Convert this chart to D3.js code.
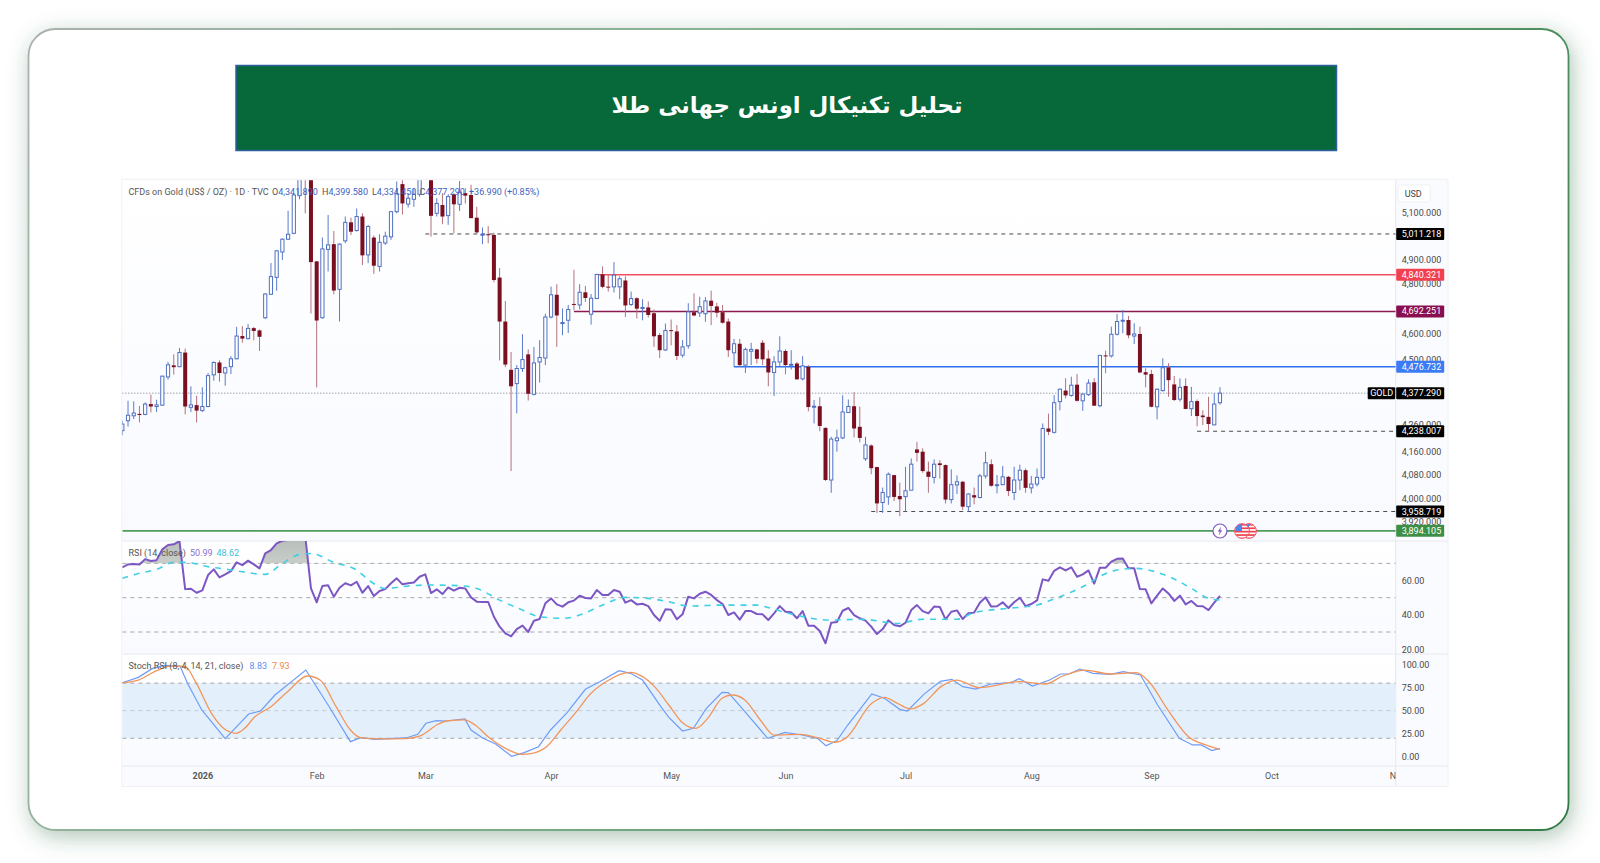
<!DOCTYPE html>
<html lang="fa">
<head>
<meta charset="utf-8">
<title>تحلیل تکنیکال اونس جهانی طلا</title>
<script src="https://cdn.jsdelivr.net/npm/d3@7"></script>
<style>
html,body{margin:0;padding:0;background:#fff;}
svg{display:block;}
text{font-family:Roboto,"Noto Sans",sans-serif;}
</style>
</head>
<body>
<svg id="chart" width="1600" height="863"></svg>
<script>
const titleText = "تحلیل تکنیکال اونس جهانی طلا";

const open = [
4240,4276,4294,4301,4299,4337,4328,4333,4438,4482,
4477,4531,4325,4333,4313,4328,4446,4493,4453,4477,
4507,4595,4585,4626,4617,4667,4761,4830,4935,4989,
5014,5177,5480,5340,4896,4667,4946,4968,4781,4982,
5061,5026,5086,4923,4996,4875,4973,4999,5107,5228,
5140,5161,5183,5290,5320,5100,5136,5090,5183,5139,
5188,5180,5081,5007,5010,5007,4829,4652,4465,4413,
4470,4524,4373,4495,4510,4670,4759,4645,4657,4722,
4718,4769,4681,4744,4842,4792,4791,4791,4817,4720,
4745,4704,4708,4685,4599,4541,4618,4613,4521,4557,
4689,4686,4683,4735,4712,4689,4652,4530,4565,4483,
4536,4543,4569,4508,4455,4495,4537,4483,4489,4431,
4476,4326,4329,4250,4066,4204,4214,4306,4329,4254,
4140,4187,4111,3989,4008,4083,4011,4009,4031,4173,
4165,4095,4075,4124,4118,3999,4049,4060,3975,4014,
4006,4080,4121,4047,4050,4077,4023,4066,4100,4039,
4052,4074,4248,4234,4346,4387,4369,4409,4349,4372,
4418,4331,4520,4518,4602,4654,4658,4595,4603,4456,
4449,4327,4387,4474,4410,4355,4404,4320,4348,4295,
4290,4261,4341.89];

const high = [
4276,4349,4347,4330,4343,4372,4353,4443,4495,4524,
4549,4546,4403,4368,4399,4453,4497,4501,4477,4517,
4631,4634,4642,4631,4621,4765,4889,4944,4993,5111,
5185,5400,5595,5400,4896,4996,5093,5024,4972,5086,
5081,5121,5100,5050,5005,5010,5021,5110,5240,5290,
5188,5210,5320,5360,5340,5166,5188,5180,5188,5242,
5210,5225,5128,5039,5045,5017,4868,4734,4533,4483,
4602,4543,4553,4579,4683,4792,4802,4704,4718,4861,
4802,4795,4762,4844,4875,4840,4893,4834,4834,4772,
4749,4741,4732,4700,4607,4644,4660,4638,4579,4725,
4765,4751,4749,4776,4727,4718,4664,4584,4584,4550,
4569,4546,4579,4540,4517,4594,4543,4540,4495,4517,
4483,4352,4362,4252,4218,4244,4369,4354,4381,4328,
4218,4191,4112,4040,4092,4084,4057,4112,4141,4200,
4177,4130,4138,4135,4120,4103,4082,4063,4020,4040,
4087,4165,4138,4083,4115,4080,4112,4119,4106,4080,
4106,4266,4302,4370,4395,4433,4439,4449,4377,4429,
4433,4521,4538,4632,4682,4698,4674,4645,4632,4471,
4465,4395,4509,4490,4442,4433,4433,4401,4354,4314,
4364,4377,4399.58];

const low = [
4224,4255,4282,4270,4296,4306,4308,4330,4428,4447,
4475,4299,4308,4270,4308,4325,4424,4420,4405,4449,
4505,4569,4582,4578,4537,4662,4758,4775,4902,4986,
5010,5161,5100,4684,4399,4663,4854,4761,4652,4972,
5007,5021,4881,4889,4844,4854,4965,4986,5100,5095,
5125,5128,5173,5250,5000,5086,5053,5050,5014,5110,
5143,5079,5014,4968,4972,4810,4501,4475,4097,4303,
4457,4350,4369,4417,4483,4664,4553,4598,4607,4697,
4700,4730,4640,4741,4785,4772,4768,4741,4670,4714,
4664,4657,4668,4553,4510,4537,4559,4502,4512,4546,
4673,4670,4651,4638,4668,4644,4514,4476,4476,4453,
4483,4489,4483,4403,4367,4476,4448,4466,4428,4425,
4310,4266,4238,4063,4022,4165,4210,4304,4216,4198,
4133,4086,3954,3954,3981,3994,3943,3958,4031,4130,
4091,4022,4054,4071,3986,3986,4018,3964,3959,3983,
4003,4071,4043,4020,4048,4011,3997,4031,4022,4020,
4043,4066,4224,4230,4314,4358,4364,4346,4312,4367,
4330,4325,4452,4512,4597,4606,4586,4564,4452,4399,
4325,4281,4383,4364,4348,4346,4318,4293,4256,4260,
4238,4260,4334.45];

const close = [
4264,4296,4304,4297,4337,4328,4334,4441,4484,4475,
4531,4328,4334,4313,4328,4443,4493,4453,4473,4507,
4595,4585,4625,4615,4592,4762,4833,4940,4989,5010,
5180,5330,5340,4893,4656,4948,4965,4776,4968,5061,
5021,5086,4921,5043,4878,4976,5002,5107,5185,5143,
5166,5183,5290,5320,5089,5143,5086,5173,5139,5192,
5177,5079,5018,5010,5007,4819,4652,4485,4403,4470,
4504,4375,4491,4512,4670,4759,4676,4648,4700,4718,
4769,4746,4745,4842,4791,4788,4839,4824,4716,4744,
4703,4708,4678,4594,4540,4617,4615,4518,4553,4690,
4676,4711,4734,4714,4687,4647,4540,4565,4483,4543,
4543,4507,4505,4455,4495,4537,4483,4486,4429,4480,
4326,4329,4257,4066,4210,4214,4308,4328,4248,4214,
4189,4107,3986,4023,4086,4008,4000,4029,4121,4161,
4097,4077,4121,4118,3999,4050,4060,3975,4018,4006,
4080,4126,4046,4050,4077,4028,4066,4100,4039,4052,
4075,4248,4236,4342,4392,4369,4407,4349,4374,4415,
4331,4520,4516,4602,4652,4657,4598,4603,4455,4447,
4327,4392,4473,4426,4352,4399,4319,4346,4293,4289,
4264,4337,4377.29];

const rsi = [
67.7,69.4,69.6,69.4,72.5,71.4,71.9,78.2,80.7,81.1,
83.0,55.0,55.2,52.9,54.3,63.2,66.5,61.8,63.6,65.5,
70.6,69.0,71.6,69.4,67.1,75.8,77.8,81.7,83.2,83.6,
85.0,87.0,86.0,55.4,47.3,56.8,57.2,50.6,55.8,58.4,
57.2,59.3,52.9,56.8,51.0,53.9,55.0,58.4,61.3,57.8,
58.4,58.9,62.2,63.6,52.7,54.9,52.1,56.0,54.1,55.8,
55.4,50.2,47.7,47.5,47.5,38.9,33.1,29.2,27.5,31.7,
33.7,30.0,36.6,37.6,46.7,49.6,46.1,44.8,47.3,48.3,
51.2,49.8,49.6,54.5,51.6,51.6,54.5,53.5,47.1,48.6,
46.1,46.5,45.1,39.9,36.6,43.2,43.0,37.4,40.3,50.6,
49.6,52.3,53.5,51.6,48.6,46.3,39.9,41.5,37.2,42.2,
42.2,40.5,40.3,37.0,40.9,45.1,41.8,41.5,38.0,42.2,
33.7,33.7,30.6,23.4,35.4,35.8,42.4,44.0,39.9,38.0,
36.6,33.1,28.8,31.7,36.8,34.1,33.3,35.4,42.8,45.7,
42.2,40.9,44.8,44.6,37.4,41.8,42.6,37.6,40.9,41.3,
47.1,50.2,44.8,45.0,47.3,44.0,47.3,50.0,45.1,46.3,
48.4,60.7,59.9,65.7,67.7,65.9,67.7,62.2,63.6,65.9,
58.2,67.5,67.5,71.0,72.7,72.9,67.1,67.1,55.0,54.9,
46.7,51.2,55.4,52.5,48.1,51.2,46.1,48.1,45.1,45.0,
42.8,47.1,50.99];

const rsiMaBar = [0,3,6,9,11,15,18,21,25,28,31,33,37,41,43.5,46,50,53,59,62,66,70,73,77.4,80,84,88,92,96,99,105,111,112,117,123.5,129.5,135.5,140,146,149,155,160,162.5,168,172.8,177,184,187,190,192];
const rsiMaValue = [61.3,64.2,66.5,70.6,70.6,68.1,66.7,65.1,63.6,70,75.2,75.8,70.6,66.1,59.3,55.4,56.8,57.4,57,55.4,48.6,42.8,38.9,38,39.9,45.7,50.2,49.6,47.3,45.1,45.7,45.7,45.1,40.5,37,37.4,35,37.4,37.4,41.3,43.8,45.7,48.6,56.4,65.1,67.1,60.9,55.4,49.6,48.62];

const stochKBar = [0,2.8,5.3,7.4,10.1,11.4,13.9,18,22.1,24.2,26.7,32.1,36,39.9,41.7,44.2,46.7,49.6,51.7,53.1,54.9,56.7,59.9,61,63.1,65.3,68.1,70.3,72.8,74.9,77.8,81,83.5,86.9,88.9,91,94.2,95.6,98,99.9,102.1,104.9,106,108.9,112.9,115.9,118.9,121.6,123.1,125,126.9,131.1,133.3,136,137.3,140.2,143.1,145.1,147,149.3,151.9,155.4,156.9,159.2,162.2,164.1,165.6,167.5,169.8,172.8,175.1,178.1,181.1,184.9,187.2,188.7,190.6,192];
const stochKValue = [80.5,86.3,96.1,99.4,98.7,79.8,50.8,19.6,46.4,49.7,67.1,94.3,56.2,16.3,20.6,18.8,19.6,20.3,24.3,36.3,39.2,38.8,41,29,19.9,13.7,0.3,4.3,10.8,29,47.9,73.3,81.6,93.6,90.7,83.4,54.4,42.8,27.9,30.8,51.9,70,69.6,49,19.9,26.4,23.5,19.9,11.9,17.4,34.4,68.2,63.5,51.5,49.7,67.8,82,84.2,76.2,73.6,79.1,80.5,84.9,76.9,83.4,90,90,95.4,90.7,89.6,92.5,88.9,56.2,19.9,12.7,12.7,6.5,8.83];

const stochDBar = [0,2.8,6,8.5,11,12.8,15.6,18.1,19.9,21.4,23.1,26,28.9,32.4,34.6,37.4,39.9,41.7,45.3,49.6,52.1,55.3,56.7,59.9,61.7,64.2,67.4,69.9,71.7,74.2,76.7,79.9,81.7,84.6,88.9,91,93.1,95.6,98.1,100.3,102.4,104.9,106.7,108.9,111.6,114,118.6,121.6,124.6,126.5,131.1,133.3,135.6,137.9,140.2,143.2,145.9,150,156.9,161.4,164.5,168.3,172.8,177.3,179.6,182.7,186.5,189.5,192];
const stochDValue = [80.5,83.4,93.6,98.7,98,81.6,47.1,29,25.4,30.8,42.8,54.4,70.7,87.8,83.4,54.4,29,20.6,19.2,19.6,22.5,35.5,38.8,39.9,34.4,20.6,7.9,2.5,3.6,10.8,29,52.6,67.1,81.6,91.8,87.1,76.2,56.2,36.3,30.8,41.7,63.5,67.1,61.7,39.9,23.5,24.3,20.6,15.6,19.9,58,64.6,58,51.9,58,76.2,83.4,75.1,81.6,79.1,87.8,94.3,90,91.4,81.6,52.6,21.7,12.7,7.93];

const priceTicks = [5100,4900,4800,4600,4500,4260,4160,4080,4000,3920];
const rsiTicks = [60,40,20];
const rsiLevels = [70,50,30];
const stochTicks = [100,75,50,25,0];
const stochLevels = [80,50,20];
const monthLabels = ["2026","Feb","Mar","Apr","May","Jun","Jul","Aug","Sep","Oct","Nov"];
const monthBars = [14,34,53,75,96,116,137,159,180,201,223];

const levelPrices = [5011.218,4840.321,4692.251,4476.732,4238.007,3958.719,3894.105];
const levelStartBar = [53,83,79,107,188,131,0];
const levelKinds = ["dash","red","purple","blue","dash","dash","green"];
const levelColors = {dash:"#4a4a4a",red:"#f0505f",purple:"#8a1a50",blue:"#2f6ff0",green:"#4f9d5a"};
const tagColors = {dash:"#000000",red:"#f2404f",purple:"#880e4f",blue:"#3b7bf5",green:"#3c8f45"};
const lastPrice = 4377.290;

const L = 122.3, R = 1395.7, PR = 1448, PT = 180.3, PB = 786.5;
const svg = d3.select("#chart");
const defs = svg.append("defs");

const shadow = defs.append("filter").attr("id","cardShadow").attr("x","-5%").attr("y","-8%").attr("width","110%").attr("height","118%");
shadow.append("feDropShadow").attr("dx",3).attr("dy",6).attr("stdDeviation",11).attr("flood-color","#2e6a48").attr("flood-opacity",0.38);

const borderGrad = defs.append("linearGradient").attr("id","cardBorder").attr("gradientUnits","userSpaceOnUse").attr("x1",28).attr("y1",29).attr("x2",1568).attr("y2",830);
borderGrad.append("stop").attr("offset","0").attr("stop-color","#a9b2ae");
borderGrad.append("stop").attr("offset","0.4").attr("stop-color","#82b28f");
borderGrad.append("stop").attr("offset","1").attr("stop-color","#2f7a45");

const paneGrad = defs.append("linearGradient").attr("id","paneBg").attr("x1",0).attr("y1",0).attr("x2",0).attr("y2",1);
paneGrad.append("stop").attr("offset","0").attr("stop-color","#ffffff");
paneGrad.append("stop").attr("offset","1").attr("stop-color","#f8faff");

const rsiGrad = defs.append("linearGradient").attr("id","rsiFill").attr("x1",0).attr("y1",0).attr("x2",0).attr("y2",1);
rsiGrad.append("stop").attr("offset","0").attr("stop-color","#b4bbb6");
rsiGrad.append("stop").attr("offset","1").attr("stop-color","#ffffff");

// card
svg.append("rect").attr("x",28.5).attr("y",29).attr("width",1540).attr("height",801).attr("rx",27)
  .attr("fill","#fff").attr("stroke","url(#cardBorder)").attr("stroke-width",1.8).attr("filter","url(#cardShadow)");

// title banner
svg.append("rect").attr("x",236).attr("y",65.5).attr("width",1100.5).attr("height",85)
  .attr("fill","#07693a").attr("stroke","#2f5f9e").attr("stroke-width",1.5);
svg.append("text").attr("x",787).attr("y",113).attr("text-anchor","middle").attr("direction","rtl")
  .style("font-family","'DejaVu Sans'").style("font-weight","700").style("font-size","22.8px").attr("fill","#fff").text(titleText);

// scales
const panes = {main:[PT,541],rsi:[541,654],stoch:[654,766]};
const x = d3.scaleLinear().domain([0,(R-L)/5.717]).range([L,R]);
const yMain = d3.scaleLog().domain([5245,3860.7]).range([PT,541]);
const yRsi = d3.scaleLinear().domain([50,30]).range([597.7,632]);
const yStoch = d3.scaleLinear().domain([100,0]).range([664.8,756.6]);

// chart panel background
Object.entries(panes).forEach(([k,[a,b]])=>{
  svg.append("rect").attr("x",L).attr("y",a).attr("width",R-L).attr("height",b-a).attr("fill","url(#paneBg)");
  defs.append("clipPath").attr("id","clip-"+k).append("rect").attr("x",L).attr("y",a).attr("width",R-L).attr("height",b-a);
});
svg.append("rect").attr("x",R).attr("y",PT).attr("width",PR-R).attr("height",PB-PT).attr("fill","#fafbfe");
svg.append("rect").attr("x",L).attr("y",766).attr("width",R-L).attr("height",PB-766).attr("fill","#fafbfe");
svg.append("rect").attr("x",L-0.5).attr("y",PT-1).attr("width",PR-L+0.5).attr("height",PB-PT+1).attr("fill","none").attr("stroke","#eff1f5");
[541,654,766].forEach(v=>svg.append("line").attr("x1",L).attr("x2",PR).attr("y1",v).attr("y2",v).attr("stroke","#eceff3").attr("stroke-width",1.6));
svg.append("line").attr("x1",R).attr("x2",R).attr("y1",PT).attr("y2",PB).attr("stroke","#e6e8ec").attr("stroke-width",1);

// main pane
const gMain = svg.append("g").attr("clip-path","url(#clip-main)");
gMain.append("line").attr("x1",L).attr("x2",R).attr("y1",yMain(lastPrice)).attr("y2",yMain(lastPrice))
  .attr("stroke","#777").attr("stroke-width",1).attr("stroke-dasharray","1 2");
levelPrices.forEach((p,i)=>{
  const k = levelKinds[i];
  gMain.append("line").attr("x1",x(levelStartBar[i])).attr("x2",R).attr("y1",yMain(p)).attr("y2",yMain(p))
    .attr("stroke",levelColors[k]).attr("stroke-width",k==="dash"?1:(k==="green"?1.8:1.5))
    .attr("stroke-dasharray",k==="dash"?"4 4":null);
});
const bars = d3.range(close.length);
const candle = gMain.selectAll("g.c").data(bars).join("g").attr("class","c");
candle.append("line").attr("x1",i=>x(i)).attr("x2",i=>x(i)).attr("y1",i=>yMain(high[i])).attr("y2",i=>yMain(low[i]))
  .attr("stroke",i=>close[i]>=open[i]?"#5b7cc9":"#b5707b").attr("stroke-width",1);
candle.append("rect")
  .attr("x",i=>x(i)-(close[i]>=open[i]?1.6:2))
  .attr("width",i=>close[i]>=open[i]?3.2:4)
  .attr("y",i=>yMain(Math.max(open[i],close[i])))
  .attr("height",i=>Math.max(1,yMain(Math.min(open[i],close[i]))-yMain(Math.max(open[i],close[i]))))
  .attr("fill",i=>close[i]>=open[i]?"#ffffff":"#7c0f1f")
  .attr("stroke",i=>close[i]>=open[i]?"#4f70c2":"none").attr("stroke-width",1);

// RSI pane
const gRsi = svg.append("g").attr("clip-path","url(#clip-rsi)");
rsiLevels.forEach(v=>gRsi.append("line").attr("x1",L).attr("x2",R).attr("y1",yRsi(v)).attr("y2",yRsi(v))
  .attr("stroke","#a6a6a6").attr("stroke-dasharray","4 4"));
defs.append("clipPath").attr("id","clip-ob").append("rect").attr("x",L).attr("y",541).attr("width",R-L).attr("height",yRsi(70)-541);
gRsi.append("path").datum(rsi).attr("clip-path","url(#clip-ob)").attr("fill","url(#rsiFill)")
  .attr("d",d3.area().x((d,i)=>x(i)).y0(yRsi(70)).y1(d=>yRsi(d)));
gRsi.append("path").datum(rsi).attr("fill","none").attr("stroke","#7c57c4").attr("stroke-width",2).attr("stroke-linejoin","round")
  .attr("d",d3.line().x((d,i)=>x(i)).y(d=>yRsi(d)));
gRsi.append("path").datum(rsiMaBar).attr("fill","none").attr("stroke","#3fd0e4").attr("stroke-width",1.6).attr("stroke-dasharray","6 6")
  .attr("d",d3.line().x(d=>x(d)).y((d,i)=>yRsi(rsiMaValue[i])).curve(d3.curveMonotoneX));

// Stoch pane
const gSt = svg.append("g").attr("clip-path","url(#clip-stoch)");
gSt.append("rect").attr("x",L).attr("width",R-L).attr("y",yStoch(80)).attr("height",yStoch(20)-yStoch(80)).attr("fill","#e3f0fc");
stochLevels.forEach(v=>gSt.append("line").attr("x1",L).attr("x2",R).attr("y1",yStoch(v)).attr("y2",yStoch(v))
  .attr("stroke",v===50?"#c2c8d0":"#a6a6a6").attr("stroke-dasharray","4 4"));
gSt.append("path").datum(stochKBar).attr("fill","none").attr("stroke","#6f9cf6").attr("stroke-width",1.2)
  .attr("d",d3.line().x(d=>x(d)).y((d,i)=>yStoch(stochKValue[i])));
gSt.append("path").datum(stochDBar).attr("fill","none").attr("stroke","#f3955a").attr("stroke-width",1.3)
  .attr("d",d3.line().x(d=>x(d)).y((d,i)=>yStoch(stochDValue[i])).curve(d3.curveMonotoneX));

// axes
function styleAxis(g,color){
  g.select(".domain").remove();
  g.selectAll(".tick line").remove();
  g.selectAll("text").attr("fill",color||"#4a4a4a").style("font-family","Roboto").style("font-size","9px");
}
const axisX = R+6;
svg.append("g").attr("transform",`translate(${axisX},-1)`)
  .call(d3.axisRight(yMain).tickValues(priceTicks).tickSize(0).tickPadding(0).tickFormat(d3.format(",.3f"))).call(styleAxis);
svg.append("g").attr("transform",`translate(${axisX},0)`)
  .call(d3.axisRight(yRsi).tickValues(rsiTicks).tickSize(0).tickPadding(0).tickFormat(d3.format(".2f"))).call(styleAxis);
svg.append("g").attr("transform",`translate(${axisX},0)`)
  .call(d3.axisRight(yStoch).tickValues(stochTicks).tickSize(0).tickPadding(0).tickFormat(d3.format(".2f"))).call(styleAxis);

defs.append("clipPath").attr("id","clip-time").append("rect").attr("x",L).attr("y",766).attr("width",R-L).attr("height",PB-766);
const timeAxis = d3.axisBottom(x).tickValues(monthBars).tickSize(0).tickPadding(0).tickFormat((d,i)=>monthLabels[i]);
svg.append("g").attr("clip-path","url(#clip-time)").append("g").attr("transform","translate(0,773)").call(timeAxis).call(styleAxis,"#555")
  .selectAll("text").style("font-weight",(d,i)=>i===0?"700":"400");

// price tags
levelPrices.forEach((p,i)=>{
  const y0 = yMain(p);
  svg.append("rect").attr("x",R+0.5).attr("y",y0-6).attr("width",48).attr("height",12).attr("rx",1).attr("fill",tagColors[levelKinds[i]]);
  svg.append("text").attr("x",axisX).attr("y",y0).attr("dy","0.34em").attr("fill","#fff").style("font-size","9px").text(d3.format(",.3f")(p));
});
const yLast = yMain(lastPrice);
svg.append("rect").attr("x",R+0.5).attr("y",yLast-6).attr("width",48).attr("height",12).attr("rx",1).attr("fill","#000");
svg.append("text").attr("x",axisX).attr("y",yLast).attr("dy","0.34em").attr("fill","#fff").style("font-size","9px").text(d3.format(",.3f")(lastPrice));
svg.append("rect").attr("x",R-28).attr("y",yLast-6).attr("width",27.5).attr("height",12).attr("rx",1).attr("fill","#000");
svg.append("text").attr("x",R-14).attr("y",yLast).attr("dy","0.34em").attr("text-anchor","middle").attr("fill","#fff").style("font-size","9px").text("GOLD");

// USD box
svg.append("rect").attr("x",R+2.5).attr("y",185).attr("width",32).attr("height",17).attr("rx",2).attr("fill","#fff").attr("stroke","#eef0f4");
svg.append("text").attr("x",R+9).attr("y",193.5).attr("dy","0.34em").attr("fill","#444").style("font-size","9px").text("USD");

// event icons
const iconG = svg.append("g");
iconG.append("circle").attr("cx",x(192)).attr("cy",531).attr("r",7).attr("fill","#fff").attr("stroke","#7e57c2").attr("stroke-width",1.2);
iconG.append("path").attr("transform",`translate(${x(192)},531)`).attr("d","M1.2,-4.5 L-2.2,0.6 L-0.2,0.6 L-1.2,4.5 L2.2,-0.8 L0.2,-0.8 Z").attr("fill","#7e57c2");
[1249,1242].forEach((cx,n)=>{
  const id="flag"+n;
  defs.append("clipPath").attr("id",id).append("circle").attr("cx",cx).attr("cy",531).attr("r",7);
  const f=iconG.append("g");
  f.append("circle").attr("cx",cx).attr("cy",531).attr("r",7.4).attr("fill","#fff").attr("stroke","#f2404f").attr("stroke-width",0.9);
  const cl=f.append("g").attr("clip-path",`url(#${id})`);
  d3.range(-7,7,3.4).forEach(d=>cl.append("rect").attr("x",cx-7).attr("y",531+d).attr("width",14).attr("height",1.7).attr("fill","#f2404f"));
  cl.append("rect").attr("x",cx-7).attr("y",524).attr("width",7).attr("height",7).attr("fill","#4a86f0");
});

// legends
const legendY = 191.7;
svg.append("text").attr("x",128.5).attr("y",legendY).attr("dy","0.34em").attr("fill","#555").style("font-size","9px").text("CFDs on Gold (US$ / OZ) · 1D · TVC");
[[272,"O","4,341.890"],[322,"H","4,399.580"],[372,"L","4,334.450"],[419.5,"C","4,377.290"]].forEach(([px,a,b])=>{
  const t=svg.append("text").attr("x",px).attr("y",legendY).attr("dy","0.34em").style("font-size","9px").attr("fill","#555");
  t.append("tspan").text(a);
  t.append("tspan").attr("fill","#3d62bf").text(b);
});
svg.append("text").attr("x",469).attr("y",legendY).attr("dy","0.34em").attr("fill","#3d62bf").style("font-size","9px").text("+36.990 (+0.85%)");

svg.append("text").attr("x",128.5).attr("y",552.5).attr("dy","0.34em").attr("fill","#555").style("font-size","9px").text("RSI (14, close)");
svg.append("text").attr("x",190).attr("y",552.5).attr("dy","0.34em").attr("fill","#8d6fd0").style("font-size","9px").text("50.99");
svg.append("text").attr("x",216.5).attr("y",552.5).attr("dy","0.34em").attr("fill","#3fbfd8").style("font-size","9px").text("48.62");

svg.append("text").attr("x",128.5).attr("y",665.5).attr("dy","0.34em").attr("fill","#555").style("font-size","9px").text("Stoch RSI (8, 4, 14, 21, close)");
svg.append("text").attr("x",249.5).attr("y",665.5).attr("dy","0.34em").attr("fill","#5f8ff0").style("font-size","9px").text("8.83");
svg.append("text").attr("x",272).attr("y",665.5).attr("dy","0.34em").attr("fill","#f0884a").style("font-size","9px").text("7.93");
</script>
</body>
</html>
